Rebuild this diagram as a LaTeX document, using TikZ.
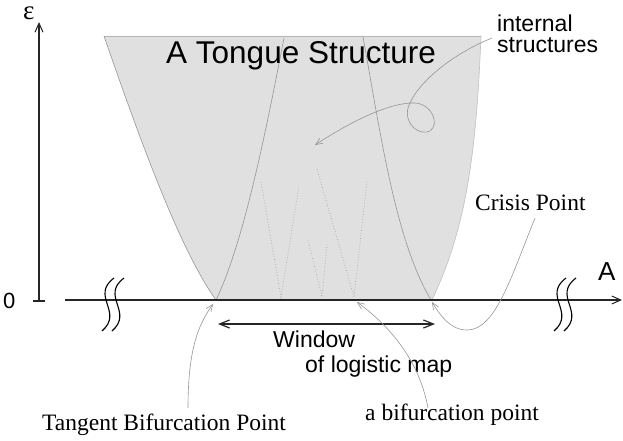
\documentclass[tikz,border=0pt]{standalone}
\usepackage{fontspec}
\setmainfont{Liberation Serif}
\setsansfont{Liberation Sans}
\usetikzlibrary{arrows.meta}
\definecolor{tongue}{RGB}{224,224,224}
\definecolor{edgegray}{RGB}{150,150,150}
\definecolor{dotgray}{RGB}{165,165,165}
\begin{document}
\begin{tikzpicture}[x=1pt,y=-1pt,
  axisline/.style={line width=1.2pt,draw=black!85},
  axistip/.style={-{Straight Barb[length=9pt,width=8pt,line width=1pt]}},
  wintip/.style={{Straight Barb[length=10pt,width=8pt,line width=1.2pt]}-{Straight Barb[length=10pt,width=8pt,line width=1.2pt]}},
  breakmark/.style={line width=1.1pt,draw=black},
  edgeline/.style={line width=0.6pt,draw=edgegray},
  dotline/.style={line width=0.7pt,draw=dotgray,dotted},
  pointer/.style={line width=0.6pt,draw=edgegray,-{Straight Barb[length=7pt,width=6pt,line width=0.6pt]}},
  sanslbl/.style={font=\sffamily\fontsize{23}{25}\selectfont,inner sep=0pt},
  seriflbl/.style={font=\rmfamily\fontsize{23.5}{25}\selectfont,inner sep=0pt,anchor=base west}]
\useasboundingbox (0,0) rectangle (623,441);

% tongue region
\fill[tongue] (104,36) -- (481,36) .. controls (476,160) and (465,230) .. (432,300)
  -- (216,300) .. controls (180,250) and (140,140) .. (104,36) -- cycle;
\draw[edgeline,draw=edgegray!70] (104,36) -- (481,36);
\draw[edgeline] (104,36) .. controls (140,140) and (180,250) .. (216,300);
\draw[edgeline,draw=edgegray!60] (481,36) .. controls (476,160) and (465,230) .. (432,300);
% inner curves
\draw[edgeline] (284,38) .. controls (268,120) and (245,240) .. (216,300);
\draw[edgeline] (363,37) .. controls (380,130) and (395,240) .. (431,300);
% dotted internal structures
\draw[dotline] (261,182) -- (281,297) -- (299,186);
\draw[dotline] (308,240) -- (322,297) -- (327,244);
\draw[dotline] (317,169) -- (354,297) -- (367,181);

% axes
\coordinate (orig) at (39,301);
\coordinate (etop) at (39,22);
\coordinate (hstart) at (65,300);
\coordinate (hend) at (622,300);
\draw[axisline,axistip] (orig) -- (etop);
\draw[axisline] (33,301) -- (45,301);
\draw[axisline,axistip] (hstart) -- (hend);
% break marks
\draw[breakmark] (114,278) .. controls (90,296) and (124,312) .. (102,331);
\draw[breakmark] (124,278) .. controls (100,296) and (134,312) .. (112,331);
\draw[breakmark] (566,278) .. controls (542,296) and (576,312) .. (554,331);
\draw[breakmark] (576,278) .. controls (552,296) and (586,312) .. (564,331);

% axis labels
\node[seriflbl,font=\rmfamily\fontsize{27}{29}\selectfont] (eps) at (23,20) {ε};
\node[sanslbl,anchor=base west,font=\sffamily\fontsize{22}{24}\selectfont] (zero) at (3,308) {0};
\node[sanslbl,anchor=base west,font=\sffamily\fontsize{26}{28}\selectfont] (alab) at (598,280) {A};

% title
\node[sanslbl,anchor=base west,font=\sffamily\fontsize{31.5}{33}\selectfont] (title) at (166,64) {A Tongue Structure};

% window arrow
\coordinate (wl) at (218,324);
\coordinate (wr) at (435,324);
\draw[axisline,wintip] (wl) -- (wr);
\node[sanslbl,anchor=north west,align=left] (window) at (273,331) {Window\\\hspace*{32pt}of logistic map};

% internal structures
\node[sanslbl,anchor=north west,align=left,font=\sffamily\fontsize{23}{21}\selectfont] (internal) at (497,15) {internal\\structures};
\coordinate (intstart) at (492,38);
\coordinate (inttip) at (315,145);
\draw[pointer] (intstart) .. controls (450,55) and (415,85) .. (408,108)
  .. controls (404,125) and (420,136) .. (430,131)
  .. controls (440,124) and (432,104) .. (415,103)
  .. controls (390,102) and (350,122) .. (inttip);

% crisis point
\node[seriflbl] (crisis) at (475,210) {Crisis Point};
\coordinate (crstart) at (535,218);
\coordinate (crtip) at (432,302);
\draw[pointer] (crstart) .. controls (510,280) and (495,330) .. (467,330)
  .. controls (450,330) and (440,315) .. (crtip);

% tangent bifurcation point
\node[seriflbl] (tangent) at (42,430) {Tangent Bifurcation Point};
\coordinate (tgstart) at (188,408);
\coordinate (tgtip) at (213,304);
\draw[pointer] (tgstart) .. controls (188,350) and (198,325) .. (tgtip);

% a bifurcation point
\node[seriflbl] (bif) at (365,420) {a bifurcation point};
\coordinate (bfstart) at (428,408);
\coordinate (bftip) at (357,302);
\draw[pointer] (bfstart) .. controls (420,365) and (395,330) .. (bftip);
\end{tikzpicture}
\end{document}
